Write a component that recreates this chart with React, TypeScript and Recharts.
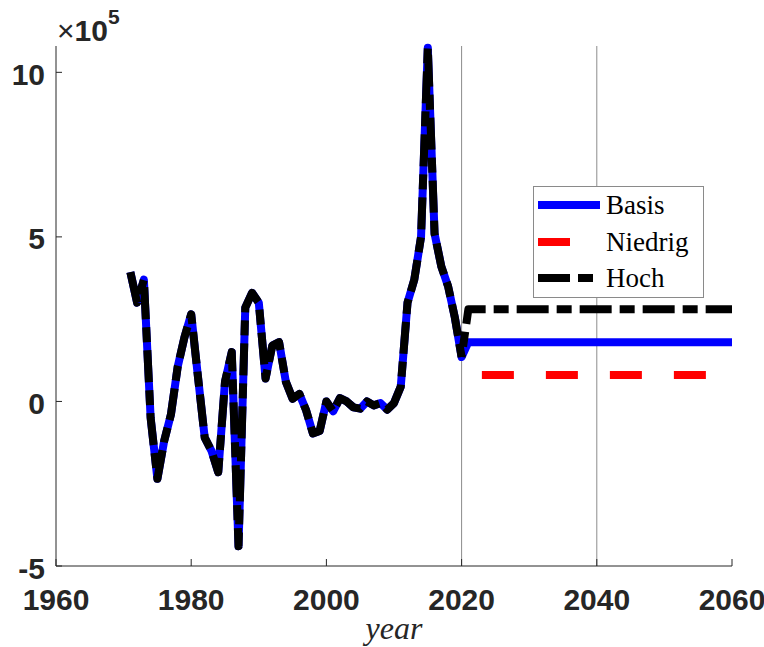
import React from 'react';
import { LineChart, Line, XAxis, YAxis, ReferenceLine, Legend } from 'recharts';

// Historical net values (persons)
const histYears = [
  1971, 1972, 1973, 1974, 1975, 1976, 1977, 1978, 1979, 1980,
  1981, 1982, 1983, 1984, 1985, 1986, 1987, 1988, 1989, 1990,
  1991, 1992, 1993, 1994, 1995, 1996, 1997, 1998, 1999, 2000,
  2001, 2002, 2003, 2004, 2005, 2006, 2007, 2008, 2009, 2010,
  2011, 2012, 2013, 2014, 2015, 2016, 2017, 2018, 2019, 2020,
];
const histValues = [
  393000, 300000, 370000, -50000, -235000, -120000, -40000, 105000, 195000, 265000,
  75000, -110000, -150000, -215000, 60000, 150000, -440000, 285000, 330000, 300000,
  70000, 170000, 180000, 60000, 8000, 23000, -27000, -97000, -90000, 0,
  -30000, 10000, 0, -18000, -22000, 0, -12000, -5000, -25000, -5000,
  45000, 300000, 370000, 500000, 1075000, 510000, 410000, 350000, 255000, 135000,
];

// Scenario projections
const futureYears = [2021, 2023, 2060];
const basisFuture = [180000, null, 180000];
const niedrigFuture = [null, 80000, 80000];
const hochFuture = [280000, null, 280000];

const seriesNames = ['Basis', 'Niedrig', 'Hoch'];
const seriesColors = ['#0000ff', '#ff0000', '#000000'];

const xTicks = [1960, 1980, 2000, 2020, 2040, 2060];
const yTicks = [-500000, 0, 500000, 1000000];
const yTickLabels = ['-5', '0', '5', '10'];
const markerYears = [2020, 2040];

const rows: any[] = [
  ...histYears.map((yr, i) => ({
    year: yr,
    basis: histValues[i],
    hochHist: histValues[i],
    hochFut: yr === 2020 ? histValues[i] : undefined,
  })),
  ...futureYears.map((yr, i) => ({
    year: yr,
    basis: basisFuture[i] ?? undefined,
    niedrig: niedrigFuture[i] ?? undefined,
    hochFut: hochFuture[i] ?? undefined,
  })),
];

const AXIS = '#262626';
const TICK_FONT = '"Liberation Sans", Arial, Helvetica, sans-serif';
const SERIF = '"Liberation Serif", "Times New Roman", serif';

const XTick = (props: any) => {
  const { x, y, payload } = props;
  return (
    <g>
      <line x1={x} x2={x} y1={y} y2={y - 7} stroke={AXIS} strokeWidth={1} />
      <text
        x={x}
        y={y + 33}
        textAnchor="middle"
        dominantBaseline="central"
        fontFamily={TICK_FONT}
        fontWeight="bold"
        fontSize={30}
        fill={AXIS}
      >
        {payload.value}
      </text>
    </g>
  );
};

const YTick = (props: any) => {
  const { x, y, payload } = props;
  const idx = yTicks.indexOf(payload.value);
  return (
    <g>
      <line x1={x} x2={x + 6} y1={y} y2={y} stroke={AXIS} strokeWidth={1} />
      <text
        x={x - 11}
        y={y + 2}
        textAnchor="end"
        dominantBaseline="central"
        fontFamily={TICK_FONT}
        fontWeight="bold"
        fontSize={30}
        fill={AXIS}
      >
        {idx >= 0 ? yTickLabels[idx] : ''}
      </text>
    </g>
  );
};

const LegendBox = () => (
  <svg width={171} height={112} style={{ display: 'block' }}>
    <rect x={0.5} y={0.5} width={170} height={111} fill="#ffffff" stroke="#8a8a8a" strokeWidth={1} />
    <line x1={5} x2={67} y1={19} y2={19} stroke={seriesColors[0]} strokeWidth={8} />
    <line x1={5} x2={37} y1={56} y2={56} stroke={seriesColors[1]} strokeWidth={8} />
    <line x1={5} x2={37} y1={92} y2={92} stroke={seriesColors[2]} strokeWidth={8} />
    <line x1={45} x2={60} y1={92} y2={92} stroke={seriesColors[2]} strokeWidth={8} />
    {seriesNames.map((n, i) => (
      <text
        key={n}
        x={73}
        y={[19, 56, 92][i]}
        dominantBaseline="central"
        fontFamily={SERIF}
        fontSize={27}
        fill="#000"
      >
        {n}
      </text>
    ))}
  </svg>
);

export default function App() {
  return (
    <div style={{ position: 'fixed', left: 0, top: 0, width: 764, height: 647, background: '#fff' }}>
      <LineChart
        width={764}
        height={647}
        data={rows}
        margin={{ top: 46, right: 32, bottom: 0, left: 0 }}
      >
        <XAxis
          dataKey="year"
          type="number"
          domain={[1960, 2060]}
          ticks={xTicks}
          interval={0}
          height={81}
          tickSize={0}
          tickMargin={0}
          tickLine={false}
          axisLine={{ stroke: AXIS, strokeWidth: 1 }}
          tick={<XTick />}
        />
        <YAxis
          type="number"
          domain={[-500000, 1080000]}
          ticks={yTicks}
          interval={0}
          width={56}
          tickSize={0}
          tickMargin={0}
          tickLine={false}
          axisLine={{ stroke: AXIS, strokeWidth: 1 }}
          tick={<YTick />}
        />
        {markerYears.map((m) => (
          <ReferenceLine key={m} x={m} stroke="#8c8c8c" strokeWidth={1} />
        ))}
        <Line
          dataKey="basis"
          name={seriesNames[0]}
          type="linear"
          stroke={seriesColors[0]}
          strokeWidth={8}
          strokeLinejoin="round"
          dot={false}
          activeDot={false}
          connectNulls
          isAnimationActive={false}
        />
        <Line
          dataKey="niedrig"
          name={seriesNames[1]}
          type="linear"
          stroke={seriesColors[1]}
          strokeWidth={8}
          strokeDasharray="32 32"
          dot={false}
          activeDot={false}
          connectNulls
          isAnimationActive={false}
        />
        <Line
          dataKey="hochHist"
          name={seriesNames[2]}
          type="linear"
          stroke={seriesColors[2]}
          strokeWidth={8}
          strokeLinejoin="round"
          strokeDasharray="32 8 15 8"
          dot={false}
          activeDot={false}
          isAnimationActive={false}
          legendType="none"
        />
        <Line
          dataKey="hochFut"
          name={seriesNames[2] + ' '}
          type="linear"
          stroke={seriesColors[2]}
          strokeWidth={8}
          strokeLinejoin="round"
          strokeDasharray="32 8 15 8"
          strokeDashoffset={29.5}
          dot={false}
          activeDot={false}
          connectNulls
          isAnimationActive={false}
          legendType="none"
        />
        <Legend
          layout="vertical"
          align="center"
          verticalAlign="middle"
          content={<LegendBox />}
          wrapperStyle={{ left: 533, top: 186, width: 171, height: 112 }}
        />
      </LineChart>
      <svg
        width={200}
        height={50}
        style={{ position: 'absolute', left: 0, top: 0, overflow: 'visible' }}
      >
        <text x={57} y={41} fontFamily={TICK_FONT} fill={AXIS}>
          <tspan fontSize={30}>×</tspan>
          <tspan fontSize={30} fontWeight="bold">10</tspan>
          <tspan fontSize={21} fontWeight="bold" dy={-17}>5</tspan>
        </text>
      </svg>
      <div
        style={{
          position: 'absolute',
          left: 394,
          top: 612,
          transform: 'translateX(-50%)',
          fontFamily: SERIF,
          fontStyle: 'italic',
          fontSize: 32,
          lineHeight: '32px',
          color: '#262626',
          whiteSpace: 'nowrap',
        }}
      >
        year
      </div>
    </div>
  );
}
